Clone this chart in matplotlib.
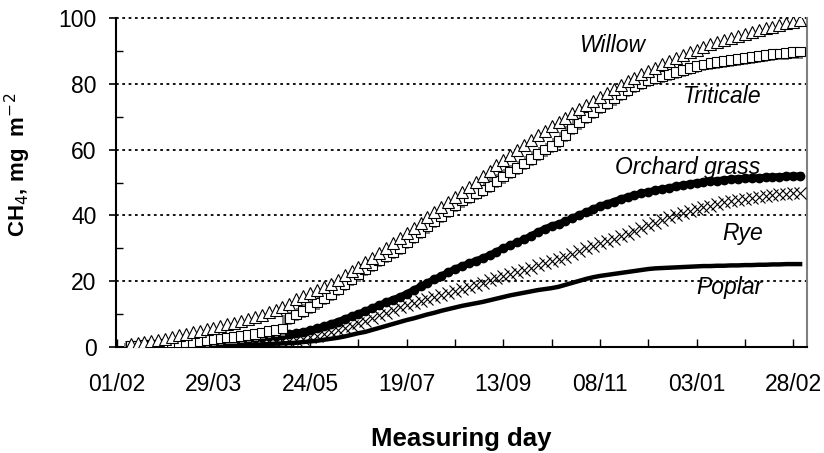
import matplotlib
matplotlib.use("Agg")
import matplotlib.pyplot as plt
import matplotlib.patheffects as pe
import numpy as np

plt.rcParams['font.family'] = ['Liberation Sans', 'DejaVu Sans']

# measuring days counted from 01/02, one reading every 4 days
days = np.arange(8, 397, 4)

willow = [1.0, 1.2, 1.5, 1.8, 2.1, 2.5, 3.0, 3.5, 4.1, 4.5, 5.0, 5.4, 5.9, 6.4, 6.9, 7.4,
          7.9, 8.4, 9.0, 9.7, 10.5, 11.3, 12.2, 13.0, 14.6, 15.5, 16.4, 17.4, 18.3, 19.3,
          20.5, 21.8, 23.1, 24.4, 25.7, 27.0, 28.5, 30.0, 31.5, 33.0, 34.6, 36.2, 37.8,
          39.4, 40.9, 42.5, 44.0, 45.5, 47.0, 48.6, 50.3, 52.0, 53.6, 55.2, 56.8, 58.3,
          59.8, 61.3, 62.8, 64.3, 65.7, 67.1, 68.4, 69.7, 71.0, 72.3, 73.6, 74.9, 76.1,
          77.3, 78.5, 79.7, 80.8, 81.9, 82.9, 83.9, 84.9, 85.9, 86.9, 87.8, 88.7, 89.6,
          90.4, 91.2, 92.0, 92.7, 93.4, 94.0, 94.6, 95.2, 95.8, 96.4, 96.9, 97.4, 97.9,
          98.4, 98.9, 99.4]

triticale = [0.3, 0.4, 0.5, 0.6, 0.8, 0.9, 1.0, 1.2, 1.4, 1.6, 1.8, 2.1, 2.4, 2.6, 2.9,
             3.1, 3.3, 3.6, 4.0, 4.4, 4.8, 5.2, 5.6, 8.8, 9.9, 11.0, 12.2, 13.5, 14.8,
             16.2, 17.6, 19.0, 20.5, 22.0, 23.6, 25.0, 26.3, 27.5, 28.8, 30.2, 31.8, 33.4,
             35.0, 36.6, 38.2, 39.8, 41.4, 43.0, 44.5, 45.7, 46.8, 47.8, 49.0, 50.4, 51.8,
             53.2, 54.5, 55.8, 57.2, 58.6, 60.0, 61.2, 62.6, 64.5, 66.4, 68.2, 70.0, 71.4,
             72.8, 74.2, 75.5, 76.8, 78.0, 79.2, 80.2, 81.0, 81.8, 82.4, 83.0, 83.6, 84.2,
             84.8, 85.4, 85.9, 86.3, 86.7, 87.0, 87.3, 87.6, 87.9, 88.2, 88.5, 88.8, 89.0,
             89.2, 89.4, 89.6, 89.8]

orchard = [0.1, 0.1, 0.2, 0.3, 0.4, 0.5, 0.6, 0.7, 0.8, 0.9, 1.1, 1.3, 1.5, 1.7, 1.9,
           2.1, 2.3, 2.5, 2.8, 3.0, 3.2, 3.4, 3.6, 3.9, 4.2, 4.6, 5.1, 5.7, 6.3, 7.0, 7.7,
           8.5, 9.3, 10.1, 10.9, 11.8, 12.7, 13.6, 14.4, 15.2, 16.2, 17.3, 18.4, 19.5,
           20.6, 21.6, 22.7, 23.7, 24.6, 25.4, 26.2, 27.0, 27.9, 29.0, 30.0, 30.9, 31.8,
           32.7, 33.8, 34.9, 35.9, 36.8, 37.4, 38.2, 39.2, 40.1, 41.0, 41.9, 42.8, 43.5,
           44.2, 45.0, 45.6, 46.2, 46.7, 47.2, 47.6, 48.0, 48.4, 48.8, 49.2, 49.6, 49.9,
           50.2, 50.4, 50.6, 50.8, 51.0, 51.2, 51.3, 51.4, 51.5, 51.6, 51.7, 51.8, 51.9,
           52.0, 52.0]

rye = [0.1, 0.1, 0.2, 0.2, 0.3, 0.3, 0.4, 0.4, 0.5, 0.5, 0.6, 0.6, 0.7, 0.8, 0.8, 0.9,
       1.0, 1.1, 1.2, 1.3, 1.4, 1.6, 1.8, 1.9, 2.0, 2.4, 2.9, 3.4, 3.9, 4.5, 5.1, 5.8,
       6.5, 7.2, 8.0, 8.8, 9.6, 10.4, 11.3, 12.1, 12.8, 13.5, 14.1, 14.7, 15.3, 15.9,
       16.5, 17.1, 17.7, 18.3, 18.9, 19.6, 20.3, 20.9, 21.5, 22.1, 22.8, 23.5, 24.1,
       24.8, 25.4, 26.0, 26.7, 27.5, 28.4, 29.2, 30.0, 30.8, 31.5, 32.2, 32.9, 33.6,
       34.4, 35.3, 36.2, 37.0, 37.7, 38.6, 39.5, 40.2, 40.8, 41.4, 42.0, 42.5, 43.0,
       43.5, 44.0, 44.4, 44.8, 45.1, 45.4, 45.7, 46.0, 46.2, 46.4, 46.6, 46.7, 46.8]

poplar = [0.0, 0.0, 0.1, 0.1, 0.1, 0.1, 0.2, 0.2, 0.2, 0.3, 0.3, 0.3, 0.4, 0.4, 0.5,
          0.5, 0.6, 0.6, 0.7, 0.8, 0.9, 1.0, 1.1, 1.2, 1.3, 1.5, 1.7, 1.9, 2.2, 2.5, 2.8,
          3.2, 3.7, 4.2, 4.6, 5.2, 5.8, 6.4, 7.0, 7.6, 8.2, 8.7, 9.3, 9.9, 10.4, 11.0,
          11.5, 12.0, 12.5, 12.9, 13.3, 13.7, 14.2, 14.7, 15.2, 15.7, 16.1, 16.5, 16.9,
          17.3, 17.6, 17.9, 18.3, 18.9, 19.5, 20.1, 20.7, 21.2, 21.6, 21.9, 22.2, 22.5,
          22.8, 23.1, 23.4, 23.7, 23.9, 24.0, 24.1, 24.2, 24.3, 24.4, 24.5, 24.6, 24.6,
          24.7, 24.7, 24.8, 24.8, 24.9, 24.9, 25.0, 25.0, 25.1, 25.1, 25.2, 25.2, 25.2]

tick_days = [0, 56, 112, 168, 224, 280, 336, 392]
tick_labels = ['01/02', '29/03', '24/05', '19/07', '13/09', '08/11', '03/01', '28/02']

labels = ['Willow', 'Triticale', 'Orchard grass', 'Rye', 'Poplar']
label_pos = [(287, 91.5), (351, 76), (331, 54.5), (363, 34.5), (355, 18)]

fig = plt.figure(figsize=(8.24, 4.53), dpi=100)
ax = fig.add_axes([116/824, 1-347/453, (807-116)/824, (347-18)/453])

for y in [20, 40, 60, 80, 100]:
    ax.axhline(y, color='black', lw=1.3, ls=(0, (1.5, 2.0)), zorder=1, clip_on=False)

ax.plot(days, poplar, color='black', lw=3.2, zorder=2)
ax.plot(days, rye, ls='none', marker='x', ms=8, mew=0.8, color='black', zorder=3)
ax.plot(days, orchard, ls='-', lw=5, marker='o', ms=6, color='black', zorder=4)
ax.plot(days, triticale, ls='none', marker='s', ms=7, mfc='white', mec='black', mew=0.8,
        zorder=5,
        path_effects=[pe.SimplePatchShadow(offset=(-1.5, -1.5), shadow_rgbFace='#808080', alpha=1.0),
                      pe.Normal()])
ax.plot(days, willow, ls='none', marker='^', ms=8, mfc='white', mec='black', mew=0.8, zorder=6)

for txt, (x, y) in zip(labels, label_pos):
    ax.text(x, y, txt, style='italic', fontsize=16.5, ha='center', va='center', zorder=7)

ax.set_xlim(-0.5, 400)
ax.set_ylim(0, 100)

ax.set_xticks(tick_days)
ax.set_xticklabels(tick_labels)
ax.set_xticks(np.arange(28, 400, 56), minor=True)
ax.set_yticks([0, 20, 40, 60, 80, 100])
ax.set_yticks([10, 30, 50, 70, 90], minor=True)

ax.tick_params(axis='x', which='both', direction='in', length=6, width=1, pad=19, labelsize=16.5)
ax.tick_params(axis='y', which='major', direction='out', length=5, width=1.2, pad=9, labelsize=16.5)
ax.tick_params(axis='y', which='minor', direction='in', length=5, width=1)

ax.spines['top'].set_visible(False)
ax.spines['left'].set_linewidth(1.5)
ax.spines['bottom'].set_linewidth(1.5)
ax.spines['right'].set_color('#808080')
ax.spines['right'].set_linewidth(1.5)

ax.set_ylabel(r'CH$_4$, mg  m$^{-2}$', fontsize=16, fontweight='bold')
ax.yaxis.set_label_coords(-0.12, 0.553)
ax.set_xlabel('Measuring day', fontsize=18.5, fontweight='bold')
ax.xaxis.set_label_coords(0.5, -0.243)

fig.savefig('out.png', dpi=100)
